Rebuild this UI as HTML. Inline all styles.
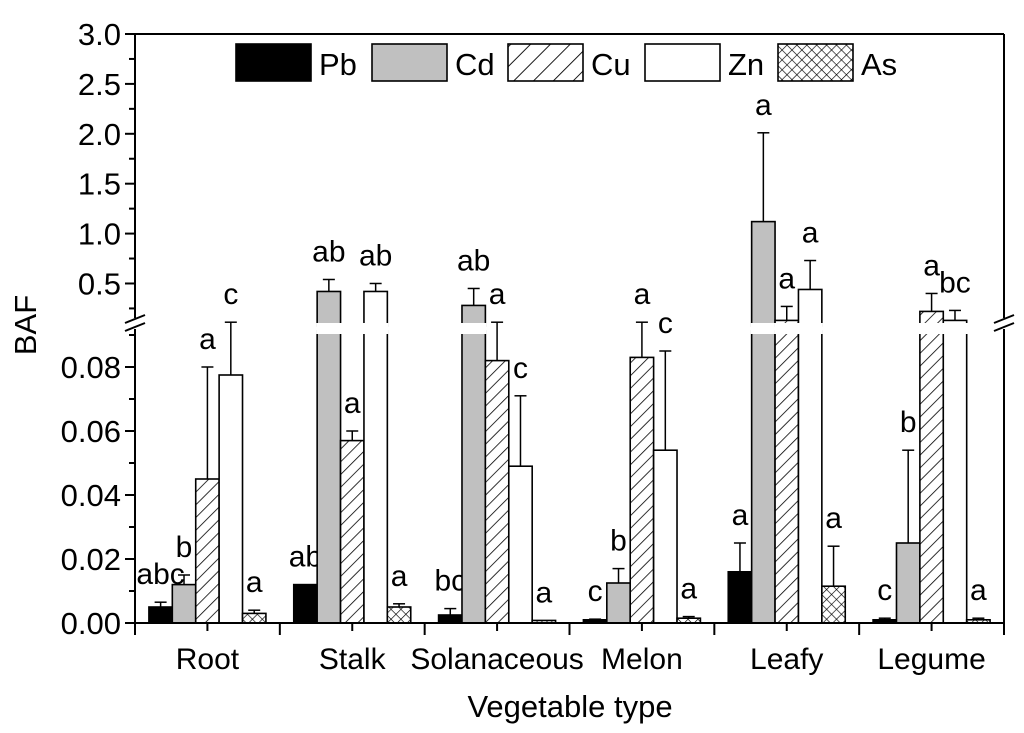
<!DOCTYPE html>
<html><head><meta charset="utf-8"><style>
body{margin:0;background:#fff;}
svg{display:block;font-family:"Liberation Sans",Arial,sans-serif;}
</style></head><body>
<svg id="chart" width="1024" height="733" viewBox="0 0 1024 733">
<defs>
<pattern id="hatch" patternUnits="userSpaceOnUse" width="9" height="9" patternTransform="rotate(45)">
<rect width="9" height="9" fill="#fff"/><line x1="0" y1="0" x2="0" y2="9" stroke="#000" stroke-width="1.6"/></pattern>
<pattern id="hatchL" patternUnits="userSpaceOnUse" width="14" height="14" patternTransform="rotate(45)">
<rect width="14" height="14" fill="#fff"/><line x1="0" y1="0" x2="0" y2="14" stroke="#000" stroke-width="1.8"/></pattern>
<pattern id="cross" patternUnits="userSpaceOnUse" width="7" height="7" patternTransform="rotate(45)">
<rect width="7" height="7" fill="#fff"/><line x1="0" y1="0" x2="0" y2="7" stroke="#000" stroke-width="1.3"/><line x1="0" y1="0" x2="7" y2="0" stroke="#000" stroke-width="1.3"/></pattern>
</defs>
<g id="marks"></g>
<g id="axes"></g>
</svg>
<script>
const categories=["Root","Stalk","Solanaceous","Melon","Leafy","Legume"];
const seriesNames=["Pb","Cd","Cu","Zn","As"];
const pbVals=[0.005,0.012,0.0025,0.001,0.016,0.001];
const pbErr=[0.0065,0.012,0.0045,0.0012,0.025,0.0015];
const cdVals=[0.012,0.42,0.28,0.0125,1.12,0.025];
const cdErr=[0.015,0.54,0.45,0.017,2.01,0.054];
const cuVals=[0.045,0.057,0.082,0.083,0.13,0.22];
const cuErr=[0.080,0.060,0.094,0.094,0.27,0.40];
const znVals=[0.0775,0.42,0.049,0.054,0.44,0.13];
const znErr=[0.094,0.50,0.071,0.085,0.73,0.23];
const asVals=[0.003,0.005,0.0008,0.0015,0.0115,0.001];
const asErr=[0.004,0.006,0.0008,0.002,0.024,0.0015];
const pbLetters=["abc","ab","bc","c","a","c"];
const cdLetters=["b","ab","ab","b","a","b"];
const cuLetters=["a","a","a","a","a","a"];
const znLetters=["c","ab","c","c","a","bc"];
const asLetters=["a","a","a","a","a","a"];
const upperTicks=["0.5","1.0","1.5","2.0","2.5","3.0"];
const lowerTicks=["0.00","0.02","0.04","0.06","0.08"];

const NS="http://www.w3.org/2000/svg";
const X0=135,X1=1004,TOP=34,BOT=623,GAP_T=323,GAP_B=334;
const LOW_MAX=0.0903, UP_MIN=0.1;
function yLow(v){return BOT-v*3200;}
function yUp(v){return 323.4-(v-UP_MIN)*(323.4-34)/(3.0-UP_MIN);}
function yVal(v){return v<UP_MIN? yLow(v) : yUp(v);}
const gw=(X1-X0)/categories.length, bw=23.4;
function xBar(ci,si){return X0+gw*ci+gw/2-bw*2.5+bw*si;}
function el(tag,attrs,parent){const e=document.createElementNS(NS,tag);for(const k in attrs)e.setAttribute(k,attrs[k]);parent.appendChild(e);return e;}
const marks=document.getElementById('marks'),axes=document.getElementById('axes');
const fills=["#000","#c0c0c0","url(#hatch)","#fff","url(#cross)"];
const legendFills=["#000","#c0c0c0","url(#hatchL)","#fff","url(#cross)"];
const vals=[pbVals,cdVals,cuVals,znVals,asVals];
const errs=[pbErr,cdErr,cuErr,znErr,asErr];
const letters=[pbLetters,cdLetters,cuLetters,znLetters,asLetters];

categories.forEach((c,ci)=>{
  seriesNames.forEach((s,si)=>{
    const v=vals[si][ci],e=errs[si][ci],x=xBar(ci,si);
    const g=el('g',{},marks);
    
    
    if(v<=LOW_MAX){
      el('rect',{x:x,y:yLow(v),width:bw,height:BOT-yLow(v),fill:fills[si],stroke:'#000','stroke-width':1.6},g);
    }else{
      el('rect',{x:x,y:GAP_B-3,width:bw,height:BOT-GAP_B+3,fill:fills[si],stroke:'#000','stroke-width':1.6},g);
      el('rect',{x:x,y:yUp(v),width:bw,height:GAP_T-yUp(v)+3,fill:fills[si],stroke:'#000','stroke-width':1.6},g);
      el('rect',{x:x-1,y:GAP_T,width:bw+2,height:GAP_B-GAP_T,fill:'#fff'},g);
    }
    const ey=yVal(e),vy=yVal(v),cx=x+bw/2;
    if(e>v){
      el('line',{x1:cx,y1:vy,x2:cx,y2:ey,stroke:'#000','stroke-width':1.5},g);
      el('line',{x1:cx-6,y1:ey,x2:cx+6,y2:ey,stroke:'#000','stroke-width':1.5},g);
    }
    const t=el('text',{x:cx,y:Math.min(ey,vy)-18,'text-anchor':'middle','font-size':30},marks);
    
    
    t.textContent=letters[si][ci];
  });
  const lx=X0+gw*ci+gw/2;
  const ct=el('text',{x:lx,y:669,'text-anchor':'middle','font-size':30},axes);
  
  
  ct.textContent=c;
  el('line',{x1:lx,y1:BOT,x2:lx,y2:BOT+8,stroke:'#000','stroke-width':2},axes);
});
const sw=2;
el('line',{x1:X0,y1:TOP,x2:X1,y2:TOP,stroke:'#000','stroke-width':sw},axes);
el('line',{x1:X0,y1:BOT,x2:X1,y2:BOT,stroke:'#000','stroke-width':sw},axes);
[X0,X1].forEach(x=>{
  el('line',{x1:x,y1:TOP,x2:x,y2:GAP_T-5,stroke:'#000','stroke-width':sw},axes);
  el('line',{x1:x,y1:GAP_B-5,x2:x,y2:BOT,stroke:'#000','stroke-width':sw},axes);
  el('rect',{x:x-8,y:GAP_T-3,width:16,height:7,fill:'#fff'},axes);
  el('line',{x1:x-10,y1:GAP_T,x2:x+10,y2:GAP_T-8,stroke:'#000','stroke-width':sw},axes);
  el('line',{x1:x-10,y1:GAP_T+8,x2:x+10,y2:GAP_T,stroke:'#000','stroke-width':sw},axes);
});
for(let i=0;i<=categories.length;i++){const x=X0+gw*i;el('line',{x1:x,y1:BOT,x2:x,y2:BOT+12,stroke:'#000','stroke-width':2},axes);}
for(let v=0.25;v<=3.001;v+=0.25){const y=yUp(v);const major=Math.abs(v*2-Math.round(v*2))<1e-6;
  el('line',{x1:X0-(major?10:6),y1:y,x2:X0,y2:y,stroke:'#000','stroke-width':2},axes);}
upperTicks.forEach(s=>{const t=el('text',{x:X0-14,y:yUp(+s)+11,'text-anchor':'end','font-size':31},axes);
  t.textContent=s;});
for(let k=0;k<=9;k++){const v=k*0.01,y=yLow(v);el('line',{x1:X0-(k%2==0?10:6),y1:y,x2:X0,y2:y,stroke:'#000','stroke-width':2},axes);}
lowerTicks.forEach(s=>{const t=el('text',{x:X0-14,y:yLow(+s)+11,'text-anchor':'end','font-size':31},axes);
  t.textContent=s;});
const yt=el('text',{x:0,y:0,'text-anchor':'middle','font-size':31,transform:'translate(36,325) rotate(-90)'},axes);
yt.textContent='BAF';
const xt=el('text',{x:570,y:717,'text-anchor':'middle','font-size':31},axes);
xt.textContent='Vegetable type';
const lgx=[236,372,508,645,778];
seriesNames.forEach((s,si)=>{
  const g=el('g',{},axes);
  
  
  el('rect',{x:lgx[si],y:44,width:75,height:37,fill:legendFills[si],stroke:'#000','stroke-width':1.6},g);
  const t=el('text',{x:lgx[si]+83,y:75,'font-size':31},g);t.textContent=s;
});
</script>
</body></html>
